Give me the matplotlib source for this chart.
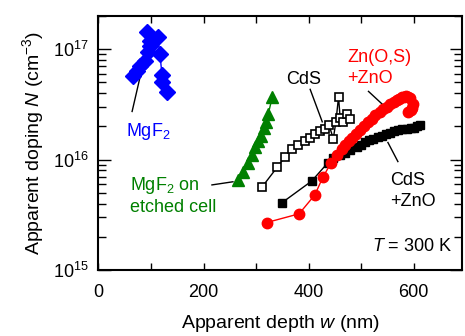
import numpy as np
import matplotlib
matplotlib.use('Agg')
import matplotlib.pyplot as plt
from matplotlib.ticker import LogLocator, MultipleLocator, NullFormatter

plt.rcParams['font.family'] = ['Liberation Sans', 'DejaVu Sans']
plt.rcParams['mathtext.fontset'] = 'custom'
plt.rcParams['mathtext.rm'] = 'Liberation Sans'
plt.rcParams['mathtext.it'] = 'Liberation Sans:italic'

# MgF2 (blue diamonds)
mgf2_w = [66, 73, 79, 89, 94, 98, 98, 92, 113, 117, 121, 121, 130]
mgf2_N = [5.7e16, 6.3e16, 7.0e16, 7.8e16, 9.4e16, 1.07e17, 1.18e17, 1.43e17,
          1.3e17, 9.0e16, 5.8e16, 5.0e16, 4.1e16]

# MgF2 on etched cell (green triangles)
etched_w = [266, 275, 285, 292, 298, 304, 310, 316, 319, 323, 331]
etched_N = [6.6e15, 7.8e15, 9.4e15, 1.11e16, 1.29e16, 1.46e16, 1.65e16,
            1.95e16, 2.2e16, 2.57e16, 3.7e16]

# CdS (open squares)
cds_w = [312, 340, 355, 369, 380, 393, 403, 412, 422, 431, 439, 447, 452,
         457, 460, 466, 473, 479]
cds_N = [5.7e15, 8.5e15, 1.06e16, 1.26e16, 1.37e16, 1.46e16, 1.58e16,
         1.69e16, 1.8e16, 1.91e16, 2.05e16, 1.55e16, 2.2e16, 3.7e16,
         2.4e16, 2.2e16, 2.6e16, 2.35e16]

# CdS + ZnO (filled squares)
cdszno_w = [349, 406, 437, 447, 460, 470, 479, 492, 500, 508, 515, 523, 532,
            540, 548, 555, 562, 570, 578, 587, 594, 601, 607, 612]
cdszno_N = [4.06e15, 6.4e15, 9.4e15, 1.04e16, 1.11e16, 1.16e16, 1.21e16,
            1.31e16, 1.37e16, 1.43e16, 1.49e16, 1.55e16, 1.6e16, 1.65e16,
            1.7e16, 1.76e16, 1.8e16, 1.84e16, 1.88e16, 1.91e16, 1.93e16,
            1.95e16, 2.0e16, 2.04e16]

# Zn(O,S) + ZnO (red circles)
znos_w = [320, 382, 412, 427, 443, 455, 463, 470, 476, 482, 490, 498, 506,
          514, 520, 527, 535, 542, 549, 555, 562, 568, 573, 578, 582, 585,
          590, 593, 599, 597, 595, 590]
znos_N = [2.69e15, 3.23e15, 4.8e15, 6.9e15, 9.4e15, 1.11e16, 1.24e16,
          1.37e16, 1.47e16, 1.58e16, 1.72e16, 1.87e16, 2.03e16, 2.2e16,
          2.35e16, 2.51e16, 2.68e16, 2.85e16, 3.0e16, 3.16e16, 3.3e16,
          3.44e16, 3.55e16, 3.66e16, 3.7e16, 3.74e16, 3.68e16, 3.59e16,
          3.16e16, 2.95e16, 2.79e16, 2.68e16]

fig = plt.figure(figsize=(4.65, 3.36), dpi=100)
ax = fig.add_axes([0.2118, 0.1964, 0.7817, 0.756])

ax.plot(mgf2_w, mgf2_N, color='blue', lw=1, marker='D', ms=8, mec='blue', mfc='blue', zorder=3)
ax.plot(etched_w, etched_N, color='green', lw=1, marker='^', ms=8, mec='green', mfc='green', zorder=3)
ax.plot(cds_w, cds_N, color='black', lw=1, marker='s', ms=5.5, mfc='white', mec='black', mew=1.2, zorder=3)
ax.plot(cdszno_w, cdszno_N, color='black', lw=1, marker='s', ms=6, mfc='black', mec='black', zorder=4)
ax.plot(znos_w, znos_N, color='red', lw=1, marker='o', ms=7.5, mfc='red', mec='red', zorder=5)

ax.set_yscale('log')
ax.set_xlim(0, 692)
ax.set_ylim(1e15, 2e17)
ax.xaxis.set_major_locator(MultipleLocator(200))
ax.xaxis.set_minor_locator(MultipleLocator(100))
ax.yaxis.set_major_locator(LogLocator(base=10, numticks=10))
ax.yaxis.set_minor_locator(LogLocator(base=10, subs=np.arange(2, 10), numticks=20))
ax.yaxis.set_minor_formatter(NullFormatter())
ax.tick_params(which='both', direction='in', top=True, right=True, labelsize=13, width=1, colors='black')
ax.tick_params(axis='x', which='major', length=5, pad=10)
ax.tick_params(axis='x', which='minor', length=5)
ax.tick_params(axis='y', which='major', length=9, pad=7)
ax.tick_params(axis='y', which='minor', length=6)
for sp in ax.spines.values():
    sp.set_linewidth(1.5)

ax.set_xlabel('Apparent depth $\\it{w}$ (nm)', fontsize=14, labelpad=9)
ax.set_ylabel('Apparent doping $\\it{N}$ (cm$^{-3}$)', fontsize=14, labelpad=5)

# labels and leader lines
ax.plot([79, 64], [5.56e16, 2.73e16], color='black', lw=1)
ax.text(53, 1.8e16, 'MgF$_2$', color='blue', fontsize=13, va='center')
ax.plot([216, 256], [5.9e15, 6.3e15], color='black', lw=1)
ax.text(60, 4.7e15, 'MgF$_2$ on\netched cell', color='green', fontsize=13, va='center', linespacing=1.25)
ax.plot([403, 426], [4.33e16, 2.2e16], color='black', lw=1)
ax.text(390, 5.3e16, 'CdS', color='black', fontsize=13, ha='center', va='center')
ax.plot([514, 551], [4.15e16, 2.85e16], color='black', lw=1)
ax.text(473, 6.8e16, 'Zn(O,S)\n+ZnO', color='red', fontsize=13, ha='left', va='center', linespacing=1.3)
ax.plot([551, 570], [1.43e16, 9.6e15], color='black', lw=1)
ax.text(555, 5.2e15, 'CdS\n+ZnO', color='black', fontsize=13, ha='left', va='center', linespacing=1.35)
ax.text(673, 1.65e15, '$\\it{T}$ = 300 K', color='black', fontsize=13, ha='right', va='center')

plt.savefig('out.png', dpi=100)
